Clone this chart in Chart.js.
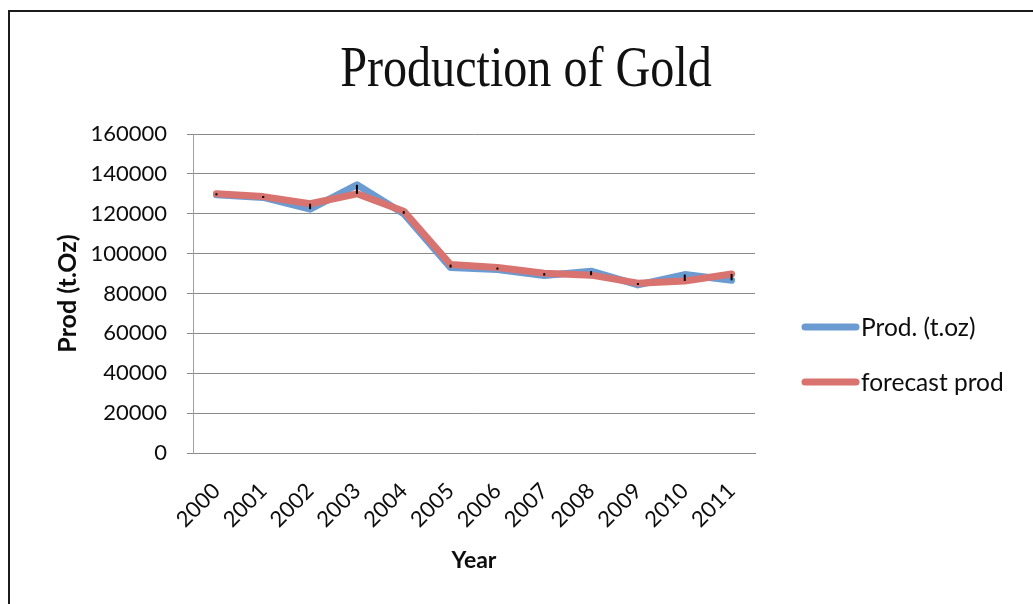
<!DOCTYPE html>
<html>
<head>
<meta charset="utf-8">
<title>Production of Gold</title>
<script src="https://cdn.jsdelivr.net/npm/chart.js@4.4.1/dist/chart.umd.min.js"></script>
<style>
  html, body { margin: 0; padding: 0; background: #ffffff; }
  #wrap { position: relative; width: 1033px; height: 604px; }
  canvas { display: block; }
</style>
</head>
<body>
<div id="wrap"><canvas id="chart" width="1033" height="604"></canvas></div>
<script>
// Yearly gold production (troy ounces) and the forecast series
const years = ['2000', '2001', '2002', '2003', '2004', '2005', '2006', '2007', '2008', '2009', '2010', '2011'];
const prodValues = [129500, 128200, 122300, 134500, 120000, 93000, 92000, 89000, 91200, 84300, 89500, 86600];
const forecastValues = [130000, 128600, 125000, 130000, 121300, 94500, 93000, 90200, 89200, 85200, 86300, 89800];
const seriesNames = ['Prod. (t.oz)', 'forecast prod'];
const yMin = 0, yMax = 160000, yStep = 20000;

const chartTitle = 'Production of Gold';
const xTitle = 'Year';
const yTitle = 'Prod (t.Oz)';

const sansFont = 'Lato, "Open Sans", "Liberation Sans", sans-serif';
const textColor = '#0d0d0d';

// White page with the dark frame around the chart object
const framePlugin = {
  id: 'frame',
  beforeDraw(chart) {
    const ctx = chart.ctx;
    ctx.save();
    ctx.fillStyle = '#ffffff';
    ctx.fillRect(0, 0, chart.width, chart.height);
    ctx.strokeStyle = '#1c1c1c';
    ctx.lineWidth = 2;
    ctx.beginPath();
    ctx.moveTo(9, chart.height);
    ctx.lineTo(9, 11);
    ctx.lineTo(chart.width, 11);
    ctx.stroke();
    ctx.restore();
  }
};

// Large serif heading, set slightly condensed
const headingPlugin = {
  id: 'heading',
  afterDraw(chart) {
    const ctx = chart.ctx;
    ctx.save();
    ctx.font = '58px "Liberation Serif", "Times New Roman", serif';
    ctx.fillStyle = '#111111';
    ctx.textAlign = 'center';
    ctx.textBaseline = 'alphabetic';
    ctx.translate(526, 86);
    ctx.scale(0.83, 1);
    ctx.fillText(chartTitle, 0, 0);
    ctx.restore();
  }
};

// High-low lines joining the two series at each year
const highLowPlugin = {
  id: 'highLow',
  afterDatasetsDraw(chart) {
    const ctx = chart.ctx;
    const xs = chart.scales.x, ys = chart.scales.y;
    ctx.save();
    ctx.strokeStyle = '#000000';
    ctx.lineWidth = 2;
    ctx.lineCap = 'butt';
    for (let i = 0; i < years.length; i++) {
      const x = xs.getPixelForValue(i);
      const y1 = ys.getPixelForValue(prodValues[i]);
      const y2 = ys.getPixelForValue(forecastValues[i]);
      let top = Math.min(y1, y2), bot = Math.max(y1, y2);
      if (bot - top < 2) { const m = (top + bot) / 2; top = m - 1; bot = m + 1; }
      ctx.beginPath();
      ctx.moveTo(x, top);
      ctx.lineTo(x, bot);
      ctx.stroke();
    }
    ctx.restore();
  }
};

// Legend to the right of the plot, line samples with rounded ends
const sideLegendPlugin = {
  id: 'sideLegend',
  afterDraw(chart) {
    const ctx = chart.ctx;
    ctx.save();
    ctx.font = '24.5px ' + sansFont;
    ctx.textBaseline = 'middle';
    ctx.textAlign = 'left';
    chart.data.datasets.forEach((ds, i) => {
      const y = 327 + i * 55;
      ctx.strokeStyle = ds.borderColor;
      ctx.lineWidth = 7;
      ctx.lineCap = 'round';
      ctx.beginPath();
      ctx.moveTo(805, y);
      ctx.lineTo(856, y);
      ctx.stroke();
      ctx.fillStyle = textColor;
      ctx.fillText(ds.label, 861, y + 1);
    });
    ctx.restore();
  }
};

new Chart(document.getElementById('chart'), {
  type: 'line',
  data: {
    labels: years,
    datasets: [
      {
        label: seriesNames[0],
        data: prodValues,
        borderColor: '#6C9BD2',
        backgroundColor: '#6C9BD2',
        borderWidth: 7,
        order: 2
      },
      {
        label: seriesNames[1],
        data: forecastValues,
        borderColor: '#D8736F',
        backgroundColor: '#D8736F',
        borderWidth: 7,
        order: 1
      }
    ]
  },
  options: {
    responsive: false,
    animation: false,
    devicePixelRatio: 1,
    elements: {
      line: { tension: 0, borderCapStyle: 'round', borderJoinStyle: 'round' },
      point: { radius: 0, hoverRadius: 0 }
    },
    layout: { padding: { top: 134, right: 278, bottom: 0, left: 0 } },
    plugins: {
      legend: { display: false },
      title: { display: false },
      tooltip: { enabled: false }
    },
    scales: {
      x: {
        type: 'category',
        offset: true,
        grid: { display: false, drawTicks: false },
        border: { display: true, color: '#8a8a8a', width: 1 },
        ticks: {
          autoSkip: false,
          minRotation: 45,
          maxRotation: 45,
          padding: 25,
          color: textColor,
          font: { family: sansFont, size: 22 }
        },
        title: {
          display: true,
          text: xTitle,
          color: textColor,
          font: { family: sansFont, size: 23, weight: 'bold' },
          padding: { top: 0, bottom: 30 }
        },
        afterFit(scale) { scale.height = 151; }
      },
      y: {
        min: yMin,
        max: yMax,
        grid: { color: '#8a8a8a', lineWidth: 1, tickLength: 6, drawTicks: true },
        border: { display: true, color: '#a0a0a0', width: 1 },
        ticks: {
          stepSize: yStep,
          padding: 20,
          color: textColor,
          font: { family: sansFont, size: 22 },
          callback: (v) => String(v)
        },
        title: {
          display: true,
          text: yTitle,
          color: textColor,
          font: { family: sansFont, size: 25, weight: 'bold' },
          padding: { top: 53, bottom: 0 }
        },
        afterFit(scale) { scale.width = 193; }
      }
    }
  },
  plugins: [framePlugin, highLowPlugin, sideLegendPlugin, headingPlugin]
});
</script>
</body>
</html>
